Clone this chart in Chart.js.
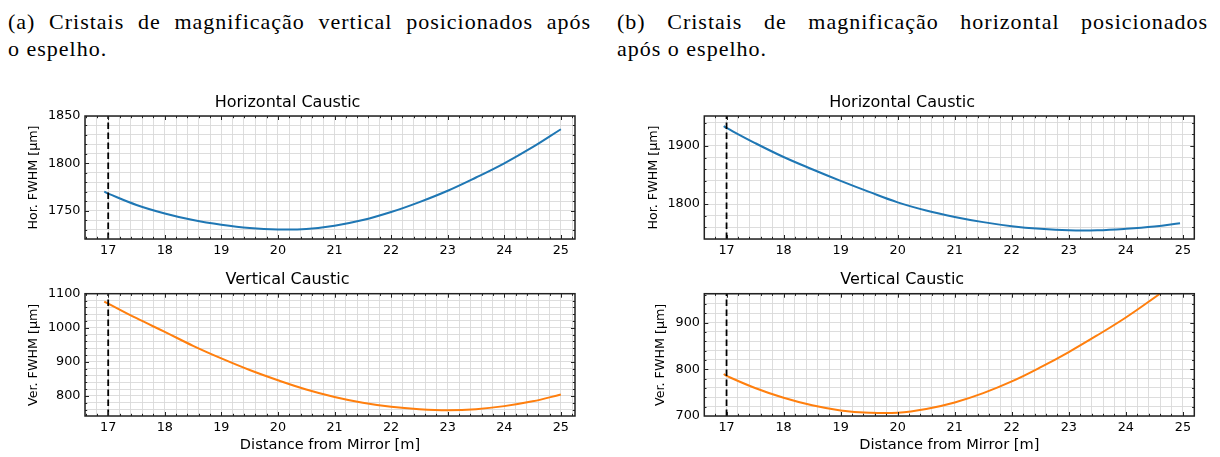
<!DOCTYPE html>
<html><head><meta charset="utf-8">
<script src="https://cdn.jsdelivr.net/npm/chart.js@4.4.1/dist/chart.umd.min.js"></script>
<style>
html,body{margin:0;padding:0;background:#fff;}
#wrap{position:relative;width:1220px;height:457px;overflow:hidden;background:#fff;}
.cap{position:absolute;top:8px;font-family:"Liberation Serif","DejaVu Serif",serif;font-size:22px;line-height:27px;color:#000;letter-spacing:1px;}
.cap .l1{text-align:justify;text-align-last:justify;}
canvas{position:absolute;}
</style></head>
<body><div id="wrap">
<div class="cap" style="left:8px;width:583px"><div class="l1">(a) Cristais de magnificação vertical posicionados após</div><div>o espelho.</div></div>
<div class="cap" style="left:617px;width:591px"><div class="l1">(b) Cristais de magnificação horizontal posicionados</div><div>após o espelho.</div></div>
<canvas id="cTL" width="600" height="174" style="left:0;top:88px"></canvas>
<canvas id="cBL" width="600" height="195" style="left:0;top:262px"></canvas>
<canvas id="cTR" width="610" height="174" style="left:610px;top:88px"></canvas>
<canvas id="cBR" width="610" height="195" style="left:610px;top:262px"></canvas>
</div>
<script>
// ---- data ----
const xMajorTicks = [17, 18, 19, 20, 21, 22, 23, 24, 25];
const xRangeA = [16.59, 25.25];
const xRangeB = [16.61, 25.2];
const mirrorPos = 17;

// (a) horizontal caustic
const hA_x = [16.93, 17, 17.5, 18, 18.5, 19, 19.5, 20, 20.5, 21, 21.5, 22, 22.5, 23, 23.5, 24, 24.5, 25];
const hA_y = [1770, 1768, 1756, 1747, 1740, 1735, 1731.5, 1730, 1730.5, 1734, 1740, 1748.5, 1759, 1771, 1785, 1800, 1817, 1836];
const hA_range = [1720, 1850];
const hA_major = [1750, 1800, 1850];

// (a) vertical caustic
const vA_x = [16.93, 17, 17.5, 18, 18.5, 19, 19.5, 20, 20.5, 21, 21.5, 22, 22.5, 23, 23.5, 24, 24.5, 25];
const vA_y = [1077, 1071, 1028, 988, 947, 910, 876, 846, 819, 797, 780, 768, 761, 758, 761, 770, 784, 804];
const vA_range = [741, 1100];
const vA_major = [800, 900, 1000, 1100];

// (b) horizontal caustic
const hB_x = [16.95, 17, 17.5, 18, 18.5, 19, 19.5, 20, 20.5, 21, 21.5, 22, 22.5, 23, 23.5, 24, 24.5, 24.95];
const hB_y = [1934, 1931, 1905, 1881, 1860, 1840, 1821, 1803, 1789, 1778, 1769, 1762, 1757.5, 1755, 1755, 1757.5, 1761.5, 1767];
const hB_range = [1740, 1951.5];
const hB_major = [1800, 1900];

// (b) vertical caustic
const vB_x = [16.95, 17, 17.5, 18, 18.5, 19, 19.5, 20, 20.5, 21, 21.5, 22, 22.5, 23, 23.5, 24, 24.6];
const vB_y = [790, 786, 760, 739, 723, 712, 707, 707, 715, 729, 749, 774, 804, 837, 873, 911, 962];
const vB_range = [700, 962];
const vB_major = [700, 800, 900];

const BLUE = '#1f77b4', ORANGE = '#ff7f0e';
const FONT = "'DejaVu Sans', sans-serif";

function stepValues(min, max, step) {
  const out = [];
  for (let k = Math.ceil(min / step - 1e-9); k * step <= max + 1e-9; k++) out.push(Math.round(k * step * 1000) / 1000);
  return out;
}
function isIn(v, arr) { return arr.some(a => Math.abs(a - v) < 1e-6); }

const framePlugin = {
  id: 'frame',
  afterDatasetsDraw(chart, args, opts) {
    const { ctx, chartArea: { left, right, top, bottom }, scales: { x, y } } = chart;
    ctx.save();
    ctx.strokeStyle = '#222';
    ctx.lineWidth = 1;
    x.ticks.forEach(t => {
      const px = Math.round(x.getPixelForValue(t.value)) + 0.5;
      if (px < left + 1 || px > right - 1) return;
      const L = isIn(t.value, opts.xMajor) ? 4 : 2.2;
      ctx.beginPath();
      ctx.moveTo(px, bottom); ctx.lineTo(px, bottom - L);
      ctx.moveTo(px, top); ctx.lineTo(px, top + L);
      ctx.stroke();
    });
    y.ticks.forEach(t => {
      const py = Math.round(y.getPixelForValue(t.value)) + 0.5;
      if (py < top + 1 || py > bottom - 1) return;
      const L = isIn(t.value, opts.yMajor) ? 4 : 2.2;
      ctx.beginPath();
      ctx.moveTo(left, py); ctx.lineTo(left + L, py);
      ctx.moveTo(right, py); ctx.lineTo(right - L, py);
      ctx.stroke();
    });
    ctx.lineWidth = 1.5;
    ctx.strokeStyle = '#222';
    ctx.strokeRect(left, top, right - left, bottom - top);
    ctx.restore();
  }
};

function makePanel(id, p) {
  const pts = p.xs.map((v, i) => ({ x: v, y: p.ys[i] }));
  const xVals = stepValues(p.xr[0], p.xr[1], 0.2);
  const yVals = stepValues(p.yr[0], p.yr[1], p.yStep);
  new Chart(document.getElementById(id), {
    type: 'line',
    data: {
      datasets: [
        { data: [{ x: mirrorPos, y: p.yr[0] }, { x: mirrorPos, y: p.yr[1] }], borderColor: '#000', borderWidth: 1.8, borderDash: [6.5, 3.5], pointRadius: 0, order: 0 },
        { data: pts, borderColor: p.color, borderWidth: 2, pointRadius: 0, tension: 0.4, order: 1 }
      ]
    },
    options: {
      responsive: false, animation: false, devicePixelRatio: 1,
      layout: { padding: { left: 0, right: p.padRight, top: 0, bottom: 0 } },
      plugins: {
        legend: { display: false }, tooltip: { enabled: false },
        title: { display: true, text: p.title, color: '#000', font: { family: FONT, size: 16, weight: 'normal' }, padding: { top: p.titleTop, bottom: 4 } },
        frame: { xMajor: xMajorTicks, yMajor: p.yMajor }
      },
      scales: {
        x: {
          type: 'linear', min: p.xr[0], max: p.xr[1],
          afterBuildTicks: s => { s.ticks = xVals.map(v => ({ value: v })); },
          afterFit: s => { s.height = p.xH; },
          grid: { color: '#d9d9d9', lineWidth: 0.9, drawTicks: false },
          border: { display: false },
          ticks: { autoSkip: false, maxRotation: 0, minRotation: 0, padding: 4, color: '#000', font: { family: FONT, size: 12.8 },
            callback: v => isIn(v, xMajorTicks) ? String(Math.round(v)) : '' },
          title: { display: p.xTitle, text: 'Distance from Mirror [m]', color: '#000', font: { family: FONT, size: 14.6 }, padding: { top: 0, bottom: 3 } }
        },
        y: {
          type: 'linear', min: p.yr[0], max: p.yr[1],
          afterBuildTicks: s => { s.ticks = yVals.map(v => ({ value: v })); },
          afterFit: s => { s.width = p.yW; },
          grid: { color: '#d9d9d9', lineWidth: 0.9, drawTicks: false },
          border: { display: false },
          ticks: { autoSkip: false, padding: p.yPad, color: '#000', font: { family: FONT, size: 12.8 },
            callback: v => isIn(v, p.yMajor) ? String(Math.round(v)) : '' },
          title: { display: true, text: p.yTitle, color: '#000', font: { family: FONT, size: 12.7 }, padding: { top: p.yTitlePad, bottom: 0 } }
        }
      }
    },
    plugins: [framePlugin]
  });
}

makePanel('cTL', { xs: hA_x, ys: hA_y, xr: xRangeA, yr: hA_range, yStep: 10, yMajor: hA_major, color: BLUE,
  title: 'Horizontal Caustic', titleTop: 4.8, xH: 23, xTitle: false, yW: 85, yPad: 4.5, yTitlePad: 25.9, padRight: 25, yTitle: 'Hor. FWHM [μm]' });
makePanel('cBL', { xs: vA_x, ys: vA_y, xr: xRangeA, yr: vA_range, yStep: 20, yMajor: vA_major, color: ORANGE,
  title: 'Vertical Caustic', titleTop: 8.5, xH: 41, xTitle: true, yW: 85, yPad: 4.5, yTitlePad: 26.4, padRight: 25, yTitle: 'Ver. FWHM [μm]' });
makePanel('cTR', { xs: hB_x, ys: hB_y, xr: xRangeB, yr: hB_range, yStep: 20, yMajor: hB_major, color: BLUE,
  title: 'Horizontal Caustic', titleTop: 4.8, xH: 23, xTitle: false, yW: 94.3, yPad: 4.3, yTitlePad: 35.9, padRight: 25.7, yTitle: 'Hor. FWHM [μm]' });
makePanel('cBR', { xs: vB_x, ys: vB_y, xr: xRangeB, yr: vB_range, yStep: 20, yMajor: vB_major, color: ORANGE,
  title: 'Vertical Caustic', titleTop: 8.5, xH: 41, xTitle: true, yW: 94.3, yPad: 4.3, yTitlePad: 43.4, padRight: 25.7, yTitle: 'Ver. FWHM [μm]' });
</script>
</body></html>
